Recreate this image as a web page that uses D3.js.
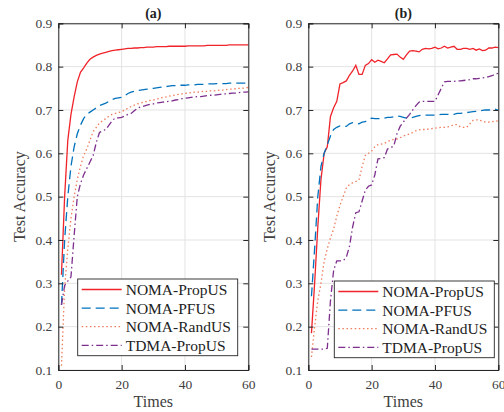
<!DOCTYPE html>
<html><head><meta charset="utf-8">
<script src="https://cdn.jsdelivr.net/npm/d3@7"></script>
<style>body{margin:0;background:#fff}svg{display:block}</style>
</head><body>
<script>
const times = d3.range(1, 61);
const seriesNames = ["NOMA-PropUS", "NOMA-PFUS", "NOMA-RandUS", "TDMA-PropUS"];
const panelTitles = ["(a)", "(b)"];
const xTicks = [0, 20, 40, 60];
const yTicks = [0.1, 0.2, 0.3, 0.4, 0.5, 0.6, 0.7, 0.8, 0.9];

const aPropUS = [0.32,0.50,0.63,0.69,0.73,0.765,0.787,0.797,0.808,0.817,
 0.822,0.826,0.829,0.831,0.833,0.835,0.837,0.838,0.839,0.840,
 0.841,0.842,0.842,0.843,0.843,0.844,0.844,0.845,0.845,0.845,
 0.846,0.846,0.846,0.846,0.847,0.847,0.847,0.847,0.847,0.847,
 0.848,0.848,0.848,0.848,0.848,0.848,0.849,0.849,0.849,0.849,
 0.849,0.849,0.849,0.850,0.850,0.850,0.850,0.850,0.850,0.850];
const aPFUS = [0.25,0.40,0.50,0.57,0.615,0.645,0.665,0.68,0.69,0.695,
 0.70,0.705,0.71,0.713,0.716,0.72,0.724,0.727,0.728,0.729,
 0.733,0.738,0.741,0.743,0.745,0.746,0.747,0.748,0.749,0.750,
 0.751,0.752,0.753,0.754,0.755,0.756,0.756,0.757,0.757,0.757,
 0.758,0.758,0.758,0.759,0.759,0.759,0.760,0.760,0.760,0.761,
 0.761,0.761,0.761,0.762,0.762,0.762,0.762,0.762,0.762,0.762];
const aRandUS = [0.11,0.29,0.38,0.45,0.50,0.54,0.57,0.595,0.61,0.63,
 0.65,0.66,0.67,0.675,0.68,0.686,0.69,0.692,0.694,0.696,
 0.70,0.704,0.708,0.711,0.714,0.716,0.718,0.720,0.722,0.723,
 0.725,0.727,0.729,0.730,0.732,0.733,0.735,0.736,0.737,0.738,
 0.739,0.740,0.741,0.741,0.742,0.743,0.743,0.744,0.744,0.745,
 0.746,0.746,0.747,0.748,0.748,0.749,0.750,0.750,0.751,0.752];
const aTDMA = [0.25,0.295,0.305,0.315,0.41,0.50,0.53,0.55,0.565,0.58,
 0.595,0.625,0.648,0.652,0.655,0.665,0.675,0.682,0.682,0.683,
 0.686,0.69,0.692,0.698,0.704,0.707,0.709,0.711,0.713,0.714,
 0.716,0.717,0.718,0.719,0.720,0.721,0.723,0.724,0.726,0.727,
 0.728,0.729,0.730,0.731,0.731,0.732,0.733,0.734,0.734,0.735,
 0.736,0.737,0.737,0.738,0.739,0.739,0.740,0.741,0.741,0.742];

const bPropUS = [0.185,0.30,0.43,0.54,0.60,0.615,0.685,0.705,0.72,0.76,
 0.763,0.767,0.78,0.79,0.803,0.782,0.782,0.803,0.807,0.816,
 0.81,0.815,0.812,0.809,0.818,0.827,0.828,0.829,0.822,0.817,
 0.827,0.836,0.837,0.836,0.834,0.84,0.842,0.841,0.842,0.845,
 0.841,0.843,0.847,0.843,0.845,0.847,0.84,0.84,0.842,0.842,
 0.84,0.842,0.838,0.841,0.837,0.838,0.843,0.843,0.845,0.844];
const bPFUS = [0.27,0.38,0.50,0.57,0.60,0.62,0.64,0.655,0.66,0.663,
 0.662,0.662,0.668,0.671,0.67,0.668,0.672,0.673,0.678,0.681,
 0.68,0.68,0.68,0.681,0.683,0.683,0.684,0.686,0.685,0.683,
 0.681,0.681,0.683,0.685,0.687,0.688,0.688,0.688,0.688,0.688,
 0.689,0.69,0.69,0.69,0.69,0.69,0.692,0.692,0.693,0.694,
 0.695,0.696,0.697,0.698,0.699,0.70,0.70,0.701,0.702,0.699];
const bRandUS = [0.13,0.20,0.26,0.30,0.35,0.38,0.405,0.425,0.455,0.48,
 0.50,0.52,0.528,0.532,0.535,0.538,0.57,0.595,0.60,0.605,
 0.615,0.62,0.621,0.623,0.627,0.63,0.632,0.633,0.636,0.64,
 0.642,0.645,0.648,0.652,0.654,0.655,0.655,0.656,0.657,0.658,
 0.659,0.66,0.66,0.661,0.663,0.666,0.666,0.661,0.66,0.66,
 0.668,0.676,0.677,0.677,0.674,0.672,0.672,0.673,0.674,0.675];
const bTDMA = [0.148,0.148,0.148,0.148,0.148,0.15,0.26,0.33,0.352,0.352,
 0.352,0.36,0.385,0.43,0.463,0.465,0.49,0.515,0.524,0.527,
 0.55,0.587,0.588,0.59,0.61,0.613,0.617,0.645,0.662,0.672,
 0.681,0.69,0.70,0.71,0.718,0.72,0.72,0.72,0.72,0.72,
 0.735,0.75,0.765,0.766,0.766,0.766,0.767,0.767,0.768,0.769,
 0.77,0.772,0.772,0.773,0.774,0.775,0.777,0.779,0.782,0.785];

const panelSeries = [[aPropUS, aPFUS, aRandUS, aTDMA], [bPropUS, bPFUS, bRandUS, bTDMA]];

// styles
const styles = [
  {color: "#f0232a", dash: null},
  {color: "#0072BD", dash: "9,5"},
  {color: "#ef7d5c", dash: "1.5,2.6"},
  {color: "#7E2F8E", dash: "7,3,1.5,3"}
];
const FONT = "'Liberation Serif', 'Times New Roman', serif";
const W = 504, H = 412;
const panels = [
  {x0: 58.3, x1: 248.3, legX: 77.7, legY: 279},
  {x0: 308.3, x1: 498.3, legX: 334.3, legY: 281}
];
const yTop = 23.3, yBot = 370;

const svg = d3.select("body").append("svg").attr("width", W).attr("height", H);

panels.forEach((p, pi) => {
  const x = d3.scaleLinear().domain([0, 60]).range([p.x0, p.x1]);
  const y = d3.scaleLinear().domain([0.1, 0.9]).range([yBot, yTop]);
  const g = svg.append("g");

  // grid
  g.append("g").selectAll("line.gx").data(xTicks).join("line")
    .attr("x1", d => x(d)).attr("x2", d => x(d)).attr("y1", yTop).attr("y2", yBot)
    .attr("stroke", "#e3e3e3").attr("stroke-width", 1);
  g.append("g").selectAll("line.gy").data(yTicks).join("line")
    .attr("y1", d => y(d)).attr("y2", d => y(d)).attr("x1", p.x0).attr("x2", p.x1)
    .attr("stroke", "#e3e3e3").attr("stroke-width", 1);

  // lines
  const line = d3.line().x((d, i) => x(times[i])).y(d => y(d));
  panelSeries[pi].forEach((s, si) => {
    g.append("path").datum(s).attr("d", line)
      .attr("fill", "none").attr("stroke", styles[si].color)
      .attr("stroke-width", 1.3)
      .attr("stroke-dasharray", styles[si].dash);
  });

  // axes (inward ticks, box)
  const axColor = "#262626";
  const xb = g.append("g").attr("transform", `translate(0,${yBot})`)
    .call(d3.axisBottom(x).tickValues(xTicks).tickSize(-5).tickPadding(9).tickFormat(d3.format("d")));
  const xt = g.append("g").attr("transform", `translate(0,${yTop})`)
    .call(d3.axisTop(x).tickValues(xTicks).tickSize(-5).tickFormat(""));
  const yl = g.append("g").attr("transform", `translate(${p.x0},0)`)
    .call(d3.axisLeft(y).tickValues(yTicks).tickSize(-5).tickPadding(6).tickFormat(d3.format(".1f")));
  const yr = g.append("g").attr("transform", `translate(${p.x1},0)`)
    .call(d3.axisRight(y).tickValues(yTicks).tickSize(-5).tickFormat(""));
  [xb, xt, yl, yr].forEach(a => {
    a.select(".domain").attr("stroke", axColor).attr("stroke-width", 1);
    a.selectAll(".tick line").attr("stroke", axColor).attr("stroke-width", 1);
    a.selectAll(".tick text").attr("fill", "#404040").style("font-family", FONT).style("font-size", "13.5px");
  });

  // title
  g.append("text").attr("x", (p.x0 + p.x1) / 2).attr("y", 18)
    .attr("text-anchor", "middle").style("font-family", FONT).style("font-size", "14px")
    .style("font-weight", "bold").attr("fill", "#222").text(panelTitles[pi]);
  // x label
  g.append("text").attr("x", (p.x0 + p.x1) / 2).attr("y", 407)
    .attr("text-anchor", "middle").style("font-family", FONT).style("font-size", "16px")
    .attr("fill", "#404040").text("Times");
  // y label
  g.append("text").attr("transform", `translate(${p.x0 - 33},${(yTop + yBot) / 2}) rotate(-90)`)
    .attr("text-anchor", "middle").style("font-family", FONT).style("font-size", "16px")
    .attr("fill", "#404040").text("Test Accuracy");

  // legend
  const lg = g.append("g").attr("transform", `translate(${p.legX},${p.legY})`);
  lg.append("rect").attr("width", 160).attr("height", 76.7)
    .attr("fill", "#fff").attr("stroke", axColor).attr("stroke-width", 0.9);
  seriesNames.forEach((name, si) => {
    const yy = 10.5 + si * 18.6;
    lg.append("line").attr("x1", 4).attr("x2", 44).attr("y1", yy).attr("y2", yy)
      .attr("stroke", styles[si].color).attr("stroke-width", 1.3)
      .attr("stroke-dasharray", styles[si].dash);
    lg.append("text").attr("x", 48).attr("y", yy).attr("dy", "0.35em")
      .style("font-family", FONT).style("font-size", "15.5px").attr("fill", "#222").text(name);
  });
});
</script>
</body></html>
